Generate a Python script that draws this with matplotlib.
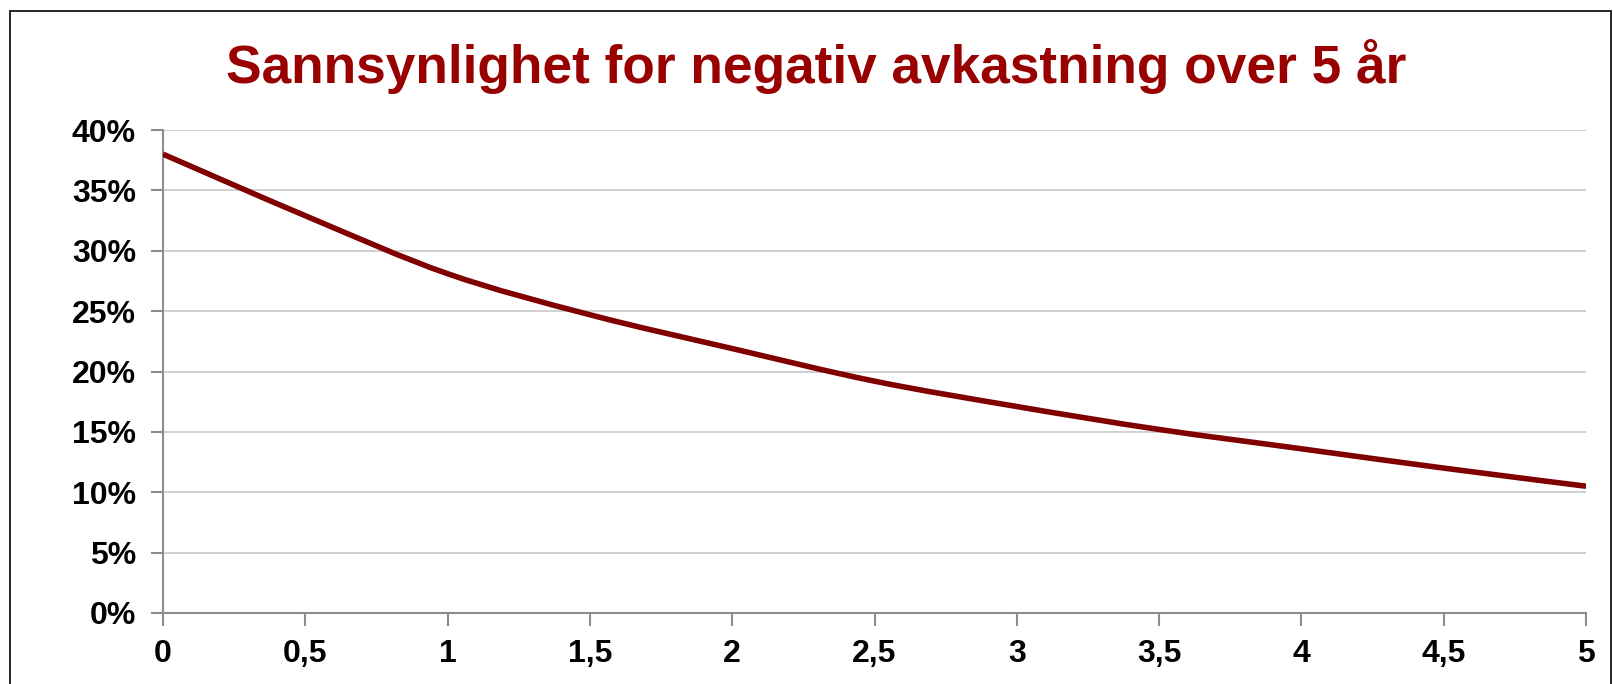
import matplotlib
matplotlib.use("Agg")
import matplotlib.pyplot as plt
from matplotlib.patches import Rectangle, PathPatch
from matplotlib.path import Path

# Years / index values along the horizontal axis
x_values = [0, 0.5, 1, 1.5, 2, 2.5, 3, 3.5, 4, 4.5, 5]
# Probability of negative return (%)
prob_negative = [38.0, 32.9, 28.1, 24.7, 21.9, 19.2, 17.1, 15.2, 13.6, 12.0, 10.5]

x_ticks = [0, 0.5, 1, 1.5, 2, 2.5, 3, 3.5, 4, 4.5, 5]
x_tick_labels = ["0", "0,5", "1", "1,5", "2", "2,5", "3", "3,5", "4", "4,5", "5"]
y_ticks = [0, 5, 10, 15, 20, 25, 30, 35, 40]
y_tick_labels = [f"{v}%" for v in y_ticks]

title = "Sannsynlighet for negativ avkastning over 5 år"

plt.rcParams["font.family"] = ["Liberation Sans", "DejaVu Sans"]


def smooth_path(xs, ys, tension=1 / 6):
    """Bezier path through the points, Catmull-Rom style (spreadsheet 'smoothed line')."""
    n = len(xs)
    verts = [(xs[0], ys[0])]
    codes = [Path.MOVETO]
    for i in range(n - 1):
        x0, y0 = (xs[i - 1], ys[i - 1]) if i > 0 else (xs[i], ys[i])
        x1, y1 = xs[i], ys[i]
        x2, y2 = xs[i + 1], ys[i + 1]
        x3, y3 = (xs[i + 2], ys[i + 2]) if i + 2 < n else (xs[i + 1], ys[i + 1])
        c1 = (x1 + (x2 - x0) * tension, y1 + (y2 - y0) * tension)
        c2 = (x2 - (x3 - x1) * tension, y2 - (y3 - y1) * tension)
        verts += [c1, c2, (x2, y2)]
        codes += [Path.CURVE4] * 3
    return Path(verts, codes)


W, H = 1613, 684
fig = plt.figure(figsize=(W / 100, H / 100), dpi=100)
fig.patch.set_facecolor("white")

# Outer chart frame
fig.patches.append(Rectangle((10 / W, -0.05), (1611 - 10) / W, 1 - 11 / H + 0.05,
                             transform=fig.transFigure, fill=False,
                             edgecolor="#000000", linewidth=1.2))

ax = fig.add_axes([163 / W, 1 - 613 / H, (1586 - 163) / W, (613 - 130) / H])
curve = PathPatch(smooth_path(x_values, prob_negative), facecolor="none",
                  edgecolor="#800000", linewidth=4.0, capstyle="butt",
                  joinstyle="round", zorder=3)
ax.add_patch(curve)

ax.set_xlim(0, 5)
ax.set_ylim(0, 40)
ax.set_xticks(x_ticks)
ax.set_xticklabels(x_tick_labels)
ax.set_yticks(y_ticks)
ax.set_yticklabels(y_tick_labels)

for lab in ax.get_xticklabels() + ax.get_yticklabels():
    lab.set_fontweight("bold")
    lab.set_fontsize(23)
    lab.set_color("black")

ax.tick_params(axis="x", direction="out", length=9, width=1.5, color="#8c8c8c", pad=10)
ax.tick_params(axis="y", direction="out", length=9, width=1.5, color="#8c8c8c", pad=10.5)

ax.yaxis.grid(True, color="#c8c8c8", linewidth=1.2)
ax.set_axisbelow(True)

for side in ("top", "right"):
    ax.spines[side].set_visible(False)
for side in ("left", "bottom"):
    ax.spines[side].set_color("#8c8c8c")
    ax.spines[side].set_linewidth(1.5)

fig.text(816 / W, 1 - 66 / H, title, ha="center", va="center",
         fontsize=38.3, fontweight="bold", color="#990000")

fig.savefig("out.png", dpi=100)
